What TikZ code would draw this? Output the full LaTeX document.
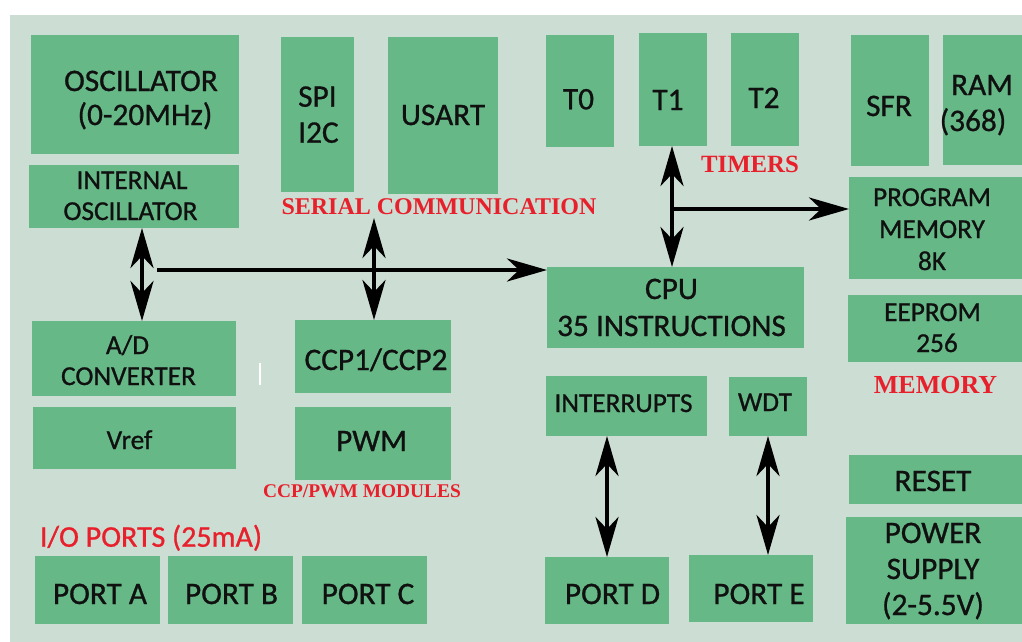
\documentclass[tikz,border=0pt]{standalone}
\usepackage{fontspec}
\setmainfont{Carlito}[RawFeature={embolden=0.9}]
\newfontfamily\redserif{Liberation Serif}
\usetikzlibrary{arrows.meta}
\definecolor{bgc}{HTML}{CCDDD4}
\definecolor{boxg}{HTML}{66B987}
\definecolor{redl}{HTML}{E8202B}
\definecolor{inkc}{HTML}{101010}
\newcommand\bx[5]{\node[boxs, minimum width={(#4-#2)*1pt}, minimum height={(#5-#3)*1pt}] (#1) at ({(#2+#4)/2},{(#3+#5)/2}) {};}
\newcommand\tx[5]{\node[txt,#4] (#1) at (#2,#3) {#5};}
\tikzset{
  boxs/.style={fill=boxg, draw=none, inner sep=0pt, outer sep=0pt},
  txt/.style={inner sep=0pt, anchor=base, text=inkc},
  bigt/.style={font=\fontsize{31.3}{36}\selectfont},
  smallt/.style={font=\fontsize{27.3}{32}\selectfont},
  redt/.style={inner sep=0pt, anchor=base, text=redl},
  dblarr/.style={line width=4pt, draw=black, {Stealth[length=40pt,width=23pt,inset=12pt]}-{Stealth[length=40pt,width=23pt,inset=12pt]}},
  onearr/.style={line width=4pt, draw=black, -{Stealth[length=40pt,width=23pt,inset=12pt]}}
}
\begin{document}
\begin{tikzpicture}[x=1pt,y=-1pt]
\useasboundingbox (0,0) rectangle (1022,642);
\fill[white] (0,0) rectangle (1022,642);
\fill[bgc] (10,15) rectangle (1022,642);
% boxes
\bx{osc}{31}{35}{239}{154}
\bx{intosc}{29}{165}{239}{228}
\bx{spi}{281}{37}{354}{192}
\bx{usart}{388}{37}{498}{194}
\bx{tzero}{546}{35}{614}{147}
\bx{tone}{639}{33}{707}{146}
\bx{ttwo}{731}{33}{799}{146}
\bx{sfr}{851}{35}{929}{166}
\bx{ram}{943}{35}{1022}{165}
\bx{prog}{849}{177}{1022}{279}
\bx{eeprom}{848}{295}{1022}{362}
\bx{cpu}{547}{267}{804}{348}
\bx{adc}{32}{321}{236}{396}
\bx{vref}{33}{407}{236}{469}
\bx{ccp}{295}{320}{451}{393}
\bx{pwm}{295}{407}{451}{480}
\bx{intr}{546}{376}{707}{436}
\bx{wdt}{729}{377}{807}{436}
\bx{portd}{545}{557}{669}{624}
\bx{porte}{689}{555}{813}{622}
\bx{reset}{849}{455}{1022}{504}
\bx{power}{846}{517}{1022}{624}
\bx{porta}{35}{556}{160}{624}
\bx{portb}{168}{556}{293}{624}
\bx{portc}{302}{556}{427}{624}
% texts
\tx{osct1}{141}{91}{bigt}{OSCILLATOR}
\tx{osct2}{145}{125}{bigt}{(0-20MHz)}
\tx{intt1}{132}{189}{smallt}{INTERNAL}
\tx{intt2}{130.5}{220}{smallt}{OSCILLATOR}
\tx{spit1}{298}{106.7}{bigt,anchor=base west}{SPI}
\tx{spit2}{298}{142.7}{bigt,anchor=base west}{I2C}
\tx{usartt}{443}{125}{bigt}{USART}
\tx{tzerot}{578.5}{109.3}{bigt}{T0}
\tx{tonet}{668}{110}{bigt}{T1}
\tx{ttwot}{764}{108}{bigt}{T2}
\tx{sfrt}{889}{116}{bigt}{SFR}
\tx{ramt1}{982}{95}{bigt}{RAM}
\tx{ramt2}{973}{131}{bigt}{(368)}
\tx{progt1}{932}{206}{smallt}{PROGRAM}
\tx{progt2}{932}{238}{smallt}{MEMORY}
\tx{progt3}{932}{270}{smallt}{8K}
\tx{eept1}{932.5}{321}{smallt}{EEPROM}
\tx{eept2}{937}{352}{smallt}{256}
\tx{cput1}{671.5}{299}{bigt}{CPU}
\tx{cput2}{671.5}{336}{bigt}{35 INSTRUCTIONS}
\tx{adct1}{127.5}{354}{smallt}{A/D}
\tx{adct2}{128.5}{385}{smallt}{CONVERTER}
\tx{vreft}{129.5}{449}{smallt}{Vref}
\tx{ccpt}{376}{370}{bigt}{CCP1/CCP2}
\tx{pwmt}{371.5}{451}{bigt}{PWM}
\tx{intrt}{623.5}{412}{smallt}{INTERRUPTS}
\tx{wdtt}{765}{411}{smallt}{WDT}
\tx{portdt}{612.5}{604}{bigt}{PORT D}
\tx{portet}{759}{604}{bigt}{PORT E}
\tx{resett}{933}{491}{bigt}{RESET}
\tx{powert1}{933}{543}{bigt}{POWER}
\tx{powert2}{933}{579}{bigt}{SUPPLY}
\tx{powert3}{933}{615}{bigt}{(2-5.5V)}
\tx{portat}{100}{604}{bigt}{PORT A}
\tx{portbt}{231.5}{604}{bigt}{PORT B}
\tx{portct}{368}{604}{bigt}{PORT C}
% red labels
\node[redt, font=\redserif\bfseries\fontsize{24}{28}\selectfont] (serlab) at (439,214) {SERIAL COMMUNICATION};
\node[redt, font=\redserif\bfseries\fontsize{24.8}{28}\selectfont] (timlab) at (750,172.7) {TIMERS};
\node[redt, font=\redserif\bfseries\fontsize{26}{30}\selectfont] (memlab) at (935.5,393) {MEMORY};
\node[redt, font=\redserif\bfseries\fontsize{19.4}{23}\selectfont] (ccplab) at (362,497) {CCP/PWM MODULES};
\node[redt, font=\fontsize{30}{34}\selectfont] (iolab) at (151,546.7) {I/O PORTS (25mA)};
% connectors
\draw[dblarr] ([xshift=8pt]intosc.south) -- ([xshift=8pt]adc.north);
\coordinate (busL) at (157,270);
\draw[onearr] (busL) -- (busL -| cpu.west);
\coordinate (serB) at (374,218);
\draw[dblarr] (serB) -- (serB |- ccp.north);
\coordinate (tj) at (672,209);
\draw[dblarr] (tj |- tone.south) -- (tj |- cpu.north);
\draw[onearr] (tj) -- (tj -| prog.west);
\draw[dblarr] (portd.north |- intr.south) -- (portd.north);
\draw[dblarr] (wdt.south) -- (wdt.south |- porte.north);
% small white mark
\draw[white, line width=1.2pt] (260,363) -- (260,385);
\end{tikzpicture}
\end{document}
